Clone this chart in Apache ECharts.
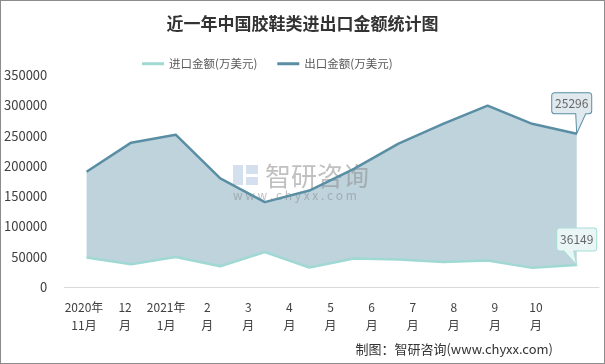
<!DOCTYPE html>
<html><head><meta charset="utf-8">
<script src="https://cdn.jsdelivr.net/npm/echarts@6/dist/echarts.min.js"></script>
<style>html,body{margin:0;padding:0;background:#fff}#c{width:605px;height:364px;box-sizing:border-box;border:1px solid #8c8c8c}</style>
</head><body><div id="c"></div>
<script>
const categories = ['2020年\n11月','12\n月','2021年\n1月','2\n月','3\n月','4\n月','5\n月','6\n月','7\n月','8\n月','9\n月','10\n月'];
const importVals = [48600, 37600, 49600, 34300, 57800, 32200, 46900, 45300, 41400, 43700, 31600, 36149];
const exportVals = [190200, 238300, 251400, 179400, 140100, 159200, 195000, 236600, 269400, 299300, 269400, 252960];
const yTicks = [0, 50000, 100000, 150000, 200000, 250000, 300000, 350000];
const seriesNames = ['进口金额(万美元)', '出口金额(万美元)'];
const lastIdx = categories.length - 1;
const font = '"Noto Sans CJK SC", "Noto Sans", sans-serif';

const chart = echarts.init(document.getElementById('c'), null, {renderer: 'canvas'});
chart.setOption({
  animation: false,
  title: {text: '近一年中国胶鞋类进出口金额统计图', left: 'center', top: 14, padding: 0,
    textStyle: {fontFamily: font, fontSize: 17, fontWeight: 'bold', color: '#333'}},
  legend: {data: seriesNames, left: 136, top: 52, itemWidth: 22, itemHeight: 3, itemGap: 20, icon: 'rect',
    textStyle: {fontFamily: font, fontSize: 11.5, color: '#595959'}},
  grid: [
    {left: 63, right: 5, top: 74, bottom: 76},
    {left: 83, right: 68, top: 74, bottom: 76}
  ],
  xAxis: [
    {type: 'category', gridIndex: 0, data: categories, boundaryGap: true,
      axisLine: {lineStyle: {color: '#d9d9d9'}}, axisTick: {show: false}, axisLabel: {show: false}},
    {type: 'category', gridIndex: 1, data: categories, boundaryGap: false,
      axisLine: {show: false}, axisTick: {show: false},
      axisLabel: {interval: 0, margin: 11, fontFamily: font, fontSize: 12, lineHeight: 18, color: '#404040'}}
  ],
  yAxis: [
    {type: 'value', gridIndex: 0, min: yTicks[0], max: yTicks[yTicks.length-1], interval: 50000,
      axisLine: {show: false}, axisTick: {show: false}, splitLine: {show: false},
      axisLabel: {margin: 17, fontFamily: font, fontSize: 13, color: '#404040', formatter: v => String(v)}},
    {type: 'value', gridIndex: 1, min: 0, max: 350000, show: false}
  ],
  graphic: [
    {type: 'rect', z: 3, shape: {x: 232, y: 164, width: 10, height: 20}, style: {fill: '#c9d8ea', opacity: 0.8}},
    {type: 'rect', z: 3, shape: {x: 245, y: 164, width: 12, height: 9}, style: {fill: '#c9d8ea', opacity: 0.8}},
    {type: 'rect', z: 3, shape: {x: 245, y: 176, width: 12, height: 8}, style: {fill: '#c9d8ea', opacity: 0.8}},
    {type: 'text', z: 3, x: 264, y: 175, style: {text: '智研咨询', font: '26px ' + font, fill: '#8c8c8c', opacity: 0.55, verticalAlign: 'middle'}},
    {type: 'text', z: 3, x: 232, y: 194, style: {text: 'w w w . c h y x x . c o m', font: '12px ' + font, fill: '#8c8c8c', opacity: 0.55, verticalAlign: 'middle'}},
    {type: 'text', x: 552, y: 348, style: {text: '制图：智研咨询(www.chyxx.com)', font: '13px ' + font, fill: '#333', align: 'right', verticalAlign: 'middle'}}
  ],
  series: [
    {name: seriesNames[0], type: 'line', xAxisIndex: 0, yAxisIndex: 0, stack: 'band', data: importVals,
      showSymbol: false, symbol: 'none', lineStyle: {color: '#a0d8d3', width: 2.5}, itemStyle: {color: '#a0d8d3'}, z: 4,
      markPoint: {symbol: 'path://M3,0 L37,0 Q40,0 40,3 L40,20 Q40,23 37,23 L17,23 L20,37 L7,23 L3,23 Q0,23 0,20 L0,3 Q0,0 3,0 Z',
        symbolSize: [40, 37], symbolKeepAspect: false, symbolOffset: [0, -18.5],
        itemStyle: {color: '#eaf6f5', borderColor: '#a8dcd8', borderWidth: 1},
        label: {show: true, offset: [0, -7], formatter: '36149', fontFamily: font, fontSize: 12, color: '#666'},
        data: [{coord: [lastIdx, importVals[lastIdx]]}]}},
    {name: 'band', type: 'line', xAxisIndex: 0, yAxisIndex: 0, stack: 'band',
      data: exportVals.map((v, i) => v - importVals[i]),
      showSymbol: false, symbol: 'none', lineStyle: {opacity: 0, width: 0}, areaStyle: {color: '#bed3dc', opacity: 1}, z: 2,
      silent: true},
    {name: seriesNames[1], type: 'line', xAxisIndex: 0, yAxisIndex: 0, data: exportVals,
      showSymbol: false, symbol: 'none', lineStyle: {color: '#5a8ea4', width: 2.5}, itemStyle: {color: '#5a8ea4'}, z: 5,
      markPoint: {symbol: 'path://M3,0 L37,0 Q40,0 40,3 L40,18 Q40,21 37,21 L34,21 L25,41 L24,21 L3,21 Q0,21 0,18 L0,3 Q0,0 3,0 Z',
        symbolSize: [40, 41], symbolKeepAspect: false, symbolOffset: [-5, -20.5],
        itemStyle: {color: '#dfe9ee', borderColor: '#5a8ea4', borderWidth: 1},
        label: {show: true, offset: [0, -10], formatter: '25296', fontFamily: font, fontSize: 12, color: '#666'},
        data: [{coord: [lastIdx, exportVals[lastIdx]]}]}}
  ]
});
</script></body></html>
